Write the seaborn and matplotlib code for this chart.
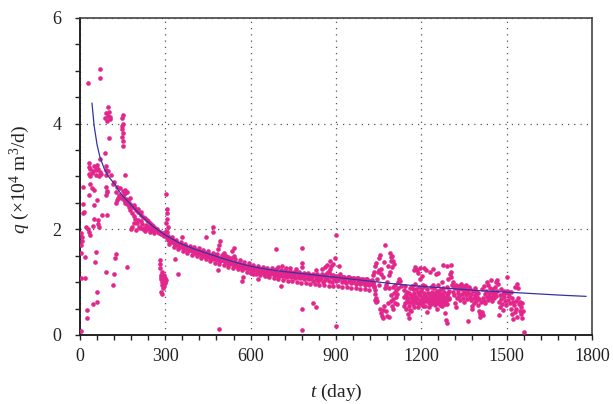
import numpy as np
import pandas as pd
import matplotlib
matplotlib.use("Agg")
import matplotlib.pyplot as plt
from matplotlib.ticker import MultipleLocator
import seaborn as sns

# ---- daily gas rate observations (t in days, q in 10^4 m^3/d) ----
# early production, t < 170 d
t_early = [5, 24, 24, 46, 59, 59, 117, 91, 121, 164, 123, 126, 53, 55, 18, 4, 18, 5, 6, 5, 3, 8,
           35, 27, 62, 64, 45, 50, 78, 94, 10, 15, 12, 33, 50, 60, 90, 95, 125, 130, 135, 67, 20, 30,
           29, 70, 70, 99, 88, 92, 95, 100, 103, 105, 106, 102, 150, 146, 152, 147, 149, 150, 148,
           151, 150, 88, 70, 30, 31, 36, 45, 50, 55, 60, 58, 65, 72, 90, 90, 90, 32, 35, 42, 57, 68,
           75, 100, 108, 12, 35, 42, 50, 92, 94, 120, 130, 140, 150, 158, 165, 157, 117, 125, 138, 145]
q_early = [0.08, 0.32, 0.47, 0.59, 0.63, 0.82, 0.95, 1.20, 1.15, 1.29, 1.45, 1.53, 1.38, 1.57, 1.48,
           1.07, 1.08, 1.55, 1.77, 1.93, 1.70, 1.85, 1.89, 2.00, 2.10, 2.18, 2.06, 2.20, 2.27, 2.27,
           2.30, 2.32, 2.48, 2.65, 2.45, 2.55, 2.65, 2.70, 2.50, 2.55, 2.60, 2.05, 2.05, 1.95,
           4.77, 5.03, 4.87, 4.32, 4.10, 4.20, 4.05, 4.15, 4.22, 4.08, 4.12, 3.73, 4.17, 4.10, 4.00,
           3.95, 3.90, 3.82, 3.75, 3.68, 3.58, 3.45, 3.33, 3.25, 3.18, 3.15, 3.10, 3.20, 3.17, 3.22,
           3.12, 3.15, 3.08, 3.20, 3.12, 3.02, 3.05, 3.00, 3.06, 3.02, 3.00, 3.05, 3.10, 3.02, 2.80,
           2.85, 2.78, 2.75, 2.80, 2.72, 2.90, 2.80, 2.78, 2.72, 2.75, 2.70, 3.03, 2.85, 2.70, 2.65,
           2.60]

# steep decline, 150-300 d
t_decl = [150, 153, 156, 159, 162, 165, 168, 171, 174, 177, 180, 183, 186, 189, 192, 195, 198, 201,
          204, 207, 210, 213, 216, 219, 222, 225, 228, 231, 234, 237, 240, 243, 246, 249, 252, 255,
          258, 261, 264, 267, 270, 273, 276, 279, 282, 285, 288, 291, 294, 297,
          178, 184, 190, 196, 205, 212, 220, 230, 245, 260, 160, 175, 190, 205, 215]
q_decl = [2.62, 2.55, 2.66, 2.50, 2.58, 2.47, 2.55, 2.42, 2.50, 2.36, 2.46, 2.30, 2.43, 2.25, 2.40,
          2.20, 2.36, 2.12, 2.33, 2.05, 2.30, 2.15, 2.27, 2.10, 2.24, 2.02, 2.21, 2.08, 2.18, 2.00,
          2.15, 2.05, 2.12, 1.98, 2.09, 2.02, 2.06, 1.96, 2.03, 1.98, 2.00, 1.94, 1.97, 1.92, 1.95,
          1.91, 1.93, 1.89, 1.92, 1.88,
          2.00, 2.05, 2.12, 1.99, 2.18, 2.02, 2.00, 1.97, 1.95, 1.93, 2.68, 2.60, 2.45, 2.38, 2.32]

# shut-in dip and restart around 300 d
t_dip = [280, 281, 282, 284, 285, 286, 287, 288, 289, 290, 291, 292, 293, 294, 295, 296, 297, 298,
         299, 300, 301, 285, 290, 303, 305, 306, 307, 304, 308, 302]
q_dip = [1.42, 1.26, 1.35, 1.14, 1.05, 1.10, 0.78, 1.00, 1.12, 0.95, 1.08, 1.02, 0.88, 1.13, 1.05,
         0.92, 1.10, 1.00, 1.07, 0.98, 1.04, 0.82, 1.20, 2.67, 2.20, 2.30, 2.38, 2.12, 2.05, 1.97]

# stable decline, 300-1030 d
t_stable = [302, 305, 308, 311, 314, 317, 320, 323, 326, 329, 332, 335, 338, 341, 344, 347, 350, 353,
            356, 359, 362, 365, 368, 371, 374, 377, 380, 383, 386, 389, 392, 395, 398,
            401, 405, 409, 413, 417, 421, 425, 429, 433, 437, 441, 445, 449, 453, 457, 461, 465, 469,
            473, 477, 481, 485, 489, 493, 497,
            501, 505, 509, 513, 517, 521, 525, 529, 533, 537, 541, 545, 549, 553, 557, 561, 565, 569,
            573, 577, 581, 585, 589, 593, 597,
            601, 605, 609, 613, 617, 621, 625, 629, 633, 637, 641, 645, 649, 653, 657, 661, 665, 669,
            673, 677, 681, 685, 689, 693, 697,
            701, 705, 709, 713, 717, 721, 725, 729, 733, 737, 741, 745, 749, 753, 757, 761, 765, 769,
            773, 777, 781, 785, 789, 793, 797,
            801, 805, 809, 813, 817, 821, 825, 829, 833, 837, 841, 845, 849, 853, 857, 861, 865, 869,
            873, 877, 881, 885, 889, 893, 897,
            901, 905, 909, 913, 917, 921, 925, 929, 933, 937, 941, 945, 949, 953, 957, 961, 965, 969,
            973, 977, 981, 985, 989, 993, 997, 1001, 1005, 1009, 1013, 1017, 1021, 1025, 1029]
q_stable = [1.90, 1.84, 1.88, 1.80, 1.83, 1.78, 1.81, 1.76, 1.79, 1.74, 1.77, 1.72, 1.75, 1.70, 1.73,
            1.68, 1.72, 1.67, 1.70, 1.66, 1.69, 1.64, 1.68, 1.63, 1.66, 1.62, 1.65, 1.61, 1.64, 1.60,
            1.63, 1.58, 1.62,
            1.60, 1.56, 1.61, 1.55, 1.59, 1.53, 1.57, 1.52, 1.56, 1.50, 1.55, 1.49, 1.53, 1.47, 1.52,
            1.46, 1.50, 1.44, 1.49, 1.43, 1.47, 1.42, 1.46, 1.40, 1.45,
            1.41, 1.45, 1.38, 1.43, 1.37, 1.41, 1.35, 1.40, 1.34, 1.38, 1.33, 1.37, 1.31, 1.36, 1.30,
            1.34, 1.29, 1.33, 1.28, 1.32, 1.27, 1.31, 1.26, 1.30, 1.25,
            1.28, 1.24, 1.27, 1.22, 1.26, 1.21, 1.25, 1.20, 1.24, 1.19, 1.23, 1.18, 1.22, 1.17, 1.22,
            1.16, 1.21, 1.15, 1.20, 1.15, 1.19, 1.14, 1.18, 1.13, 1.18,
            1.12, 1.17, 1.11, 1.20, 1.13, 1.16, 1.10, 1.19, 1.12, 1.15, 1.09, 1.18, 1.11, 1.14, 1.08,
            1.17, 1.10, 1.13, 1.07, 1.16, 1.09, 1.12, 1.06, 1.15, 1.08,
            1.11, 1.05, 1.14, 1.07, 1.10, 1.03, 1.13, 1.06, 1.09, 1.02, 1.12, 1.05, 1.08, 1.01, 1.11,
            1.04, 1.15, 1.07, 1.20, 1.03, 1.10, 1.00, 1.13, 1.05, 1.08,
            1.02, 1.12, 1.04, 1.15, 1.07, 1.00, 1.10, 1.03, 1.06, 0.99, 1.09, 1.02, 1.05, 0.98, 1.08,
            1.01, 1.04, 0.97, 1.07, 1.00, 1.03, 0.96, 1.06, 0.99, 1.02, 0.95, 1.05, 0.98, 1.01, 0.94,
            1.03, 0.96, 0.99]

# wider spread of the same stable period
t_spread = [306, 314, 322, 330, 338, 346, 354, 362, 370, 378, 386, 394, 402, 410, 418, 426, 434, 442,
            450, 458, 466, 474, 482, 490, 498, 506, 514, 522, 530, 538, 546, 554, 562, 570, 578, 586,
            594, 602, 610, 618, 626, 634, 642, 650, 658, 666, 674, 682, 690, 698, 706, 714, 722, 730,
            738, 746, 754, 762, 770, 778, 786, 794, 802, 810, 818, 826, 834, 842, 850, 858, 866, 874,
            882, 890, 898, 906, 914, 922, 930, 938, 946, 954, 962, 970, 978, 986, 994, 1002, 1010,
            1018, 1026]
q_spread = [1.95, 1.72, 1.86, 1.66, 1.80, 1.62, 1.76, 1.58, 1.72, 1.55, 1.69, 1.52, 1.67, 1.49, 1.64,
            1.46, 1.61, 1.43, 1.58, 1.40, 1.55, 1.37, 1.53, 1.35, 1.51, 1.32, 1.49, 1.29, 1.46, 1.27,
            1.44, 1.24, 1.41, 1.22, 1.38, 1.20, 1.36, 1.17, 1.33, 1.15, 1.31, 1.13, 1.29, 1.11, 1.27,
            1.09, 1.26, 1.07, 1.24, 1.06, 1.23, 1.04, 1.22, 1.03, 1.21, 1.02, 1.20, 1.00, 1.19, 0.99,
            1.18, 0.98, 1.17, 0.97, 1.16, 0.96, 1.15, 0.95, 1.15, 0.94, 1.14, 0.93, 1.13, 0.93, 1.12,
            0.92, 1.11, 0.91, 1.10, 0.90, 1.09, 0.89, 1.08, 0.88, 1.07, 0.87, 1.06, 0.86, 1.05, 0.85,
            1.04]

# scattered readings off the stable trend
t_off = [334, 345, 358, 442, 468, 468, 492, 480, 485, 488, 489, 485, 542, 535, 569, 573, 626, 688,
         780, 780, 780, 706, 780, 780, 821, 830, 830, 891, 900, 900, 878, 884, 910, 875, 505, 520,
         540, 600, 610, 650, 660, 698, 712, 725, 740, 760, 850, 860, 870, 880, 895]
q_off = [1.44, 1.16, 1.86, 1.86, 1.95, 2.05, 1.78, 1.52, 1.62, 1.70, 0.11, 1.23, 1.65, 1.58, 1.02,
         1.10, 1.06, 1.63, 1.65, 1.36, 1.28, 0.93, 0.50, 0.09, 0.61, 0.53, 1.22, 1.34, 1.89, 0.16,
         1.25, 1.30, 1.30, 1.20, 1.55, 1.48, 1.50, 1.18, 1.15, 1.14, 1.12, 1.28, 1.30, 1.27, 1.26,
         1.24, 1.25, 1.28, 1.32, 1.40, 1.45]

# unstable period, 1030-1130 d
t_unst = [1032, 1035, 1038, 1040, 1042, 1044, 1046, 1048, 1050, 1052, 1054, 1055, 1057, 1058, 1060,
          1062, 1064, 1066, 1067, 1068, 1070, 1072, 1074, 1075, 1076, 1078, 1080, 1082, 1083, 1085,
          1086, 1088, 1089, 1090, 1092, 1093, 1094, 1095, 1096, 1097, 1098, 1099, 1100, 1101, 1102,
          1104, 1105, 1106, 1108, 1110, 1112, 1114, 1116, 1118, 1120, 1122, 1125, 1128,
          1031, 1033, 1036, 1039, 1050, 1034, 1037, 1041]
q_unst = [0.98, 0.90, 1.30, 1.36, 0.70, 0.65, 1.05, 1.20, 0.95, 1.46, 1.52, 0.50, 1.25, 0.42, 1.15,
          0.36, 0.48, 1.10, 0.32, 1.38, 0.55, 0.88, 1.70, 0.95, 0.45, 1.00, 0.36, 1.30, 0.60, 1.14,
          0.88, 0.34, 1.55, 1.20, 0.75, 1.48, 0.65, 1.40, 1.50, 0.55, 1.28, 0.68, 0.50, 1.39, 0.90,
          1.35, 0.80, 0.60, 0.95, 0.72, 0.85, 0.58, 0.78, 1.00, 0.88, 1.05, 1.03, 0.92,
          1.13, 1.19, 0.78, 0.85, 1.22, 0.93, 0.66, 0.63]

# late period, 1130-1300 d
t_late = [1138, 1141, 1143, 1145, 1147, 1149, 1151, 1152, 1154, 1156, 1157, 1159, 1161, 1163, 1165,
          1167, 1169, 1171, 1173, 1175, 1176, 1178, 1179, 1181, 1183, 1184, 1186, 1188, 1189, 1191,
          1193, 1195, 1196, 1198, 1200, 1202, 1203, 1205, 1207, 1209, 1211, 1213, 1215, 1217, 1218,
          1220, 1222, 1224, 1226, 1228, 1230, 1231, 1233, 1235, 1237, 1239, 1241, 1243, 1245, 1247,
          1249, 1251, 1252, 1254, 1256, 1258, 1260, 1262, 1264, 1266, 1268, 1270, 1272, 1274, 1276,
          1277, 1279, 1281, 1283, 1285, 1287, 1289, 1290, 1292, 1294, 1296, 1298, 1300,
          1140, 1144, 1148, 1153, 1158, 1162, 1166, 1170, 1174, 1177, 1182, 1187, 1192, 1197, 1201,
          1206, 1210, 1214, 1219, 1223, 1227, 1232, 1236, 1240, 1244, 1248, 1253, 1257, 1261, 1265,
          1269, 1273, 1278, 1282, 1286, 1291, 1295, 1299, 1186, 1196, 1210, 1240, 1258, 1290]
q_late = [0.72, 0.85, 0.60, 0.78, 0.50, 0.66, 0.82, 0.40, 0.70, 0.55, 0.32, 0.88, 0.63, 0.75, 0.45,
          0.92, 0.68, 0.58, 0.80, 1.22, 0.64, 1.28, 0.74, 0.86, 1.25, 0.60, 0.70, 1.18, 0.52, 0.78,
          0.90, 1.05, 0.66, 0.84, 0.58, 1.12, 0.72, 0.62, 0.95, 0.68, 0.80, 0.55, 0.74, 1.22, 0.64,
          0.86, 0.44, 0.70, 0.60, 0.78, 1.20, 0.66, 0.90, 0.58, 0.74, 0.82, 0.62, 0.70, 0.88, 0.56,
          0.76, 1.15, 0.66, 0.84, 0.60, 0.72, 0.94, 0.64, 0.78, 0.56, 0.70, 0.86, 0.62, 1.00, 1.33,
          0.74, 0.66, 0.82, 0.58, 0.42, 0.28, 0.22, 0.76, 0.90, 1.05, 0.70, 0.84, 1.15,
          0.55, 0.92, 0.74, 0.62, 0.80, 0.48, 0.72, 0.86, 0.52, 0.96, 0.68, 0.82, 0.60, 0.76, 0.88,
          0.54, 0.72, 0.92, 0.66, 0.80, 0.52, 0.76, 0.68, 0.94, 0.60, 0.80, 0.72, 0.50, 0.84, 0.68,
          0.78, 0.54, 0.88, 0.70, 0.64, 0.58, 0.80, 0.68, 1.22, 1.27, 1.26, 1.25, 1.18, 1.30]

# final period, 1300-1565 d
t_final = [1303, 1305, 1306, 1308, 1310, 1312, 1314, 1316, 1318, 1320, 1322, 1324, 1326, 1328, 1330,
           1332, 1334, 1336, 1338, 1340, 1342, 1344, 1346, 1348, 1350, 1352, 1354, 1356, 1358, 1360,
           1362, 1364, 1366, 1368, 1370, 1372, 1374, 1376, 1378, 1380, 1382, 1384, 1386, 1388, 1390,
           1392, 1394, 1396, 1398, 1400, 1402, 1404, 1406, 1408, 1410, 1412, 1414, 1416, 1418, 1420,
           1422, 1424, 1426, 1428, 1430, 1432, 1434, 1436, 1438, 1440, 1442, 1444, 1446, 1448, 1450,
           1452, 1454, 1456, 1458, 1460, 1462, 1464, 1466, 1468, 1470, 1472, 1474, 1476, 1478, 1480,
           1482, 1484, 1486, 1488, 1490, 1492, 1494, 1496, 1498, 1500, 1502, 1504, 1506, 1508, 1510,
           1512, 1514, 1516, 1518, 1520, 1522, 1524, 1526, 1528, 1530, 1532, 1534, 1536, 1538, 1540,
           1542, 1544, 1546, 1548, 1550, 1552, 1554, 1556, 1558, 1561]
q_final = [1.33, 1.20, 1.10, 0.95, 1.00, 0.82, 0.90, 0.75, 0.60, 0.88, 0.52, 0.94, 0.70, 0.85, 0.80,
           0.92, 0.74, 0.88, 0.66, 0.96, 0.78, 0.86, 0.70, 0.92, 0.62, 0.82, 0.88, 0.76, 0.94, 0.68,
           0.84, 0.27, 0.80, 0.90, 0.72, 0.86, 0.66, 0.78, 0.55, 0.50, 0.84, 0.70, 0.60, 0.88, 0.76,
           0.64, 0.82, 0.72, 0.56, 0.80, 0.68, 0.46, 0.40, 0.34, 0.62, 0.44, 0.86, 0.70, 0.38, 0.92,
           0.64, 0.78, 0.60, 0.84, 1.00, 0.72, 0.94, 0.66, 0.80, 0.74, 0.88, 0.70, 1.04, 0.82, 0.64,
           0.76, 0.86, 0.70, 0.80, 0.90, 0.74, 1.00, 1.04, 0.84, 0.96, 0.62, 0.38, 0.76, 0.52, 0.68,
           0.86, 0.58, 0.78, 0.48, 0.84, 0.72, 0.64, 0.80, 0.56, 0.84, 1.09, 0.80, 0.66, 0.82, 0.74,
           0.60, 0.82, 0.50, 0.70, 0.40, 0.62, 0.30, 0.56, 0.44, 0.90, 0.64, 0.50, 0.97, 0.34, 0.70,
           0.88, 0.58, 0.46, 0.62, 0.40, 0.52, 0.32, 0.60, 0.46, 0.06]

# fitted decline curve
t_fit = [42, 50, 60, 70, 85, 100, 115, 125, 135, 150, 170, 200, 230, 260, 300, 350, 400, 450, 500,
         550, 600, 650, 700, 800, 900, 1000, 1100, 1200, 1300, 1400, 1500, 1600, 1700, 1780]
q_fit = [4.39, 3.95, 3.60, 3.37, 3.15, 3.00, 2.90, 2.84, 2.74, 2.63, 2.52, 2.34, 2.18, 2.04, 1.89,
         1.74, 1.63, 1.54, 1.45, 1.37, 1.30, 1.25, 1.21, 1.15, 1.09, 1.03, 0.97, 0.92, 0.88, 0.84,
         0.81, 0.78, 0.75, 0.73]

obs = pd.DataFrame({
    "t": t_early + t_decl + t_dip + t_stable + t_spread + t_off + t_unst + t_late + t_final,
    "q": q_early + q_decl + q_dip + q_stable + q_spread + q_off + q_unst + q_late + q_final,
})
fit = pd.DataFrame({"t": t_fit, "q": q_fit})

sns.set_theme(style="ticks")
plt.rcParams["font.family"] = ["Liberation Serif", "DejaVu Serif"]
plt.rcParams["mathtext.fontset"] = "custom"
plt.rcParams["mathtext.rm"] = "Liberation Serif"
plt.rcParams["mathtext.it"] = "Liberation Serif:italic"

fig = plt.figure(figsize=(6.13, 4.04), dpi=100)
ax = fig.add_axes([0.1305, 0.171, 0.835, 0.7845])

sns.scatterplot(data=obs, x="t", y="q", ax=ax, color="#e2268c", s=11, linewidth=0, zorder=3)
sns.lineplot(data=fit, x="t", y="q", ax=ax, color="#3434a0", linewidth=0.9, zorder=4,
             estimator=None, sort=False)

ax.set_xlim(0, 1800)
ax.set_ylim(0, 6)
ax.xaxis.set_major_locator(MultipleLocator(300))
ax.xaxis.set_minor_locator(MultipleLocator(60))
ax.yaxis.set_major_locator(MultipleLocator(2))
ax.yaxis.set_minor_locator(MultipleLocator(0.5))
ax.tick_params(which="both", direction="out", length=3.5, width=1.0, color="#222222",
               labelsize=13, labelcolor="#222222")
ax.tick_params(axis="x", pad=6)
ax.tick_params(axis="y", pad=10)

ax.grid(True, which="major", color="#555555", linestyle=(0, (1, 4)), linewidth=0.9)
for side in ["left", "bottom"]:
    ax.spines[side].set_color("#222222")
    ax.spines[side].set_linewidth(1.4)
for side in ["top", "right"]:
    ax.spines[side].set_visible(True)
    ax.spines[side].set_color("#444444")
    ax.spines[side].set_linewidth(1.2)

ax.set_xlabel("$t$ (day)", fontsize=14, color="#222222")
ax.set_ylabel("$q$ (×10$^{4}$ m$^{3}$/d)", fontsize=14, color="#222222")
ax.xaxis.set_label_coords(0.5, -0.148)
ax.yaxis.set_label_coords(-0.094, 0.49)

fig.savefig("out.png", dpi=100)
